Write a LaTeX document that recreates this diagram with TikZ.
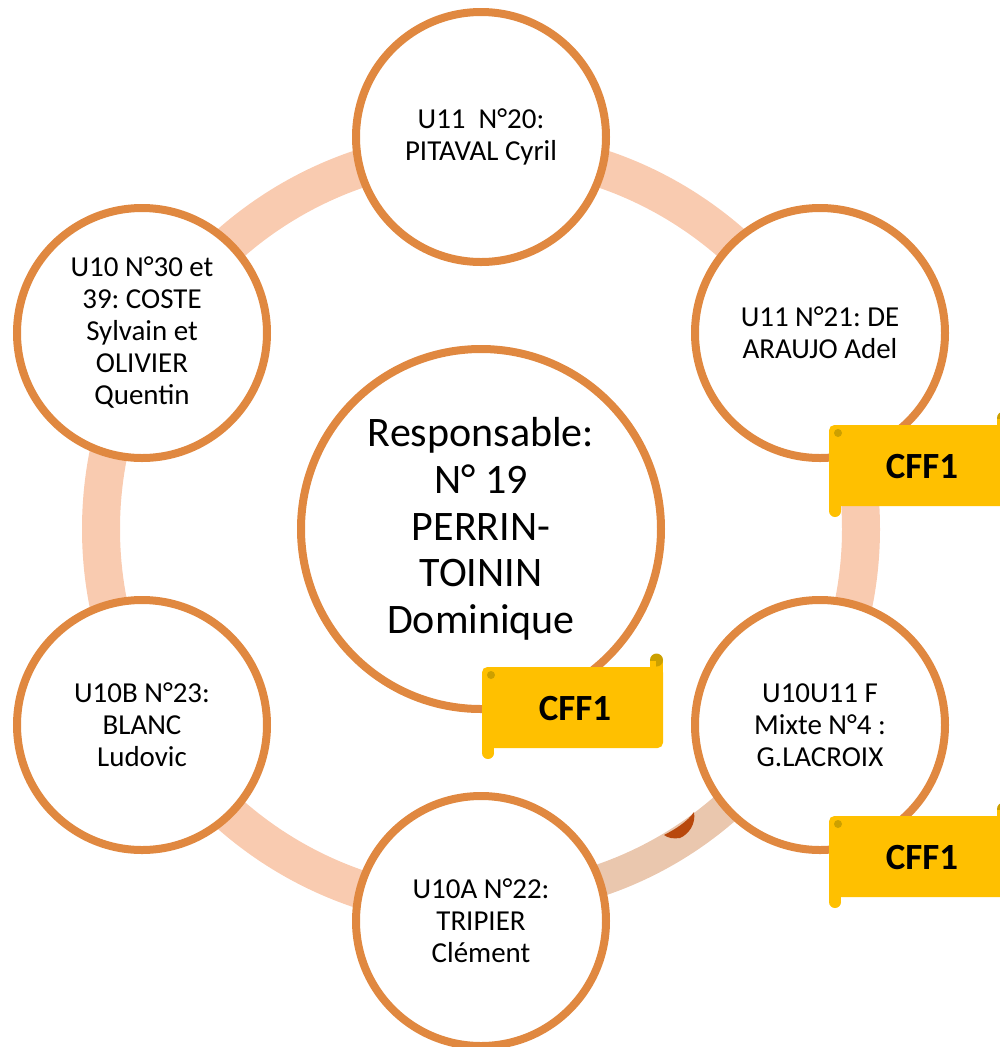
\documentclass[tikz,border=0pt]{standalone}
\usepackage{fontspec}
\setmainfont{Carlito}
\usepackage{tikz}
\frenchspacing
\definecolor{ringorange}{RGB}{224,136,64}
\definecolor{ringpeach}{RGB}{249,203,176}
\definecolor{ringtan}{RGB}{234,199,174}
\definecolor{markbrown}{RGB}{184,72,12}
\definecolor{scrollgold}{RGB}{255,192,0}
\definecolor{scrolldark}{RGB}{204,160,0}

\begin{document}
\begin{tikzpicture}[x=0.75pt, y=-0.75pt,
  team/.style={circle, draw=ringorange, line width=6pt, fill=white, minimum size=187.5pt, inner sep=0pt, align=center, font=\fontsize{21.7}{24}\selectfont},
  resp/.style={team, minimum size=270pt, font=\fontsize{31.5}{35}\selectfont},
  band/.style={draw=ringpeach, line width=28.5pt},
  tanband/.style={draw=ringtan, line width=24pt},
  scroll/.style={fill=scrollgold},
  cfftext/.style={font=\fontsize{27.7}{30}\selectfont\bfseries}]
  \useasboundingbox (0,0) rectangle (1000,1047);
  \clip (0,0) rectangle (1000,1047);
  \coordinate (mid) at (481,529);
  \draw[band] ([shift={(90:380)}]mid) arc[start angle=90, end angle=390, radius=380];
  \draw[tanband] ([shift={(88:371)}]mid) arc[start angle=88, end angle=32, radius=371];
  \fill[markbrown] (664,835) .. controls (676,829) and (688,821) .. (694,812)
    .. controls (696,824) and (689,834) .. (680,838)
    .. controls (673,839) and (668,838) .. (664,835) -- cycle;
  \node[resp] (resp) at (mid) {Responsable:\\N° 19\\PERRIN-\\TOININ\\Dominique};
  \node[team] (u20) at (481,137) {U11\ \ N°20:\\PITAVAL Cyril};
  \node[team] (u21) at (820,333) {U11 N°21: DE\\ARAUJO Adel};
  \node[team] (u4) at (820,725) {U10U11 F\\Mixte N°4 :\\G.LACROIX};
  \node[team] (u22) at (481,921) {U10A N°22:\\TRIPIER\\Clément};
  \node[team] (u23) at (142,725) {U10B N°23:\\BLANC\\Ludovic};
  \node[team] (u30) at (142,333) {U10 N°30 et\\39: COSTE\\Sylvain et\\OLIVIER\\Quentin};
  \foreach \bx/\by/\nm in {482/667/cffresp, 829/425/cffu21, 829/816/cffu4} {
    \fill[scroll] (\bx,\by+60) rectangle (\bx+12,\by+86);
    \fill[scroll] (\bx+6,\by+86) circle (6);
    \fill[scroll, rounded corners=4pt] (\bx,\by) rectangle (\bx+181,\by+81);
    \fill[scroll] (\bx+168,\by-7) rectangle (\bx+181,\by+8);
    \fill[scrolldark] (\bx+174.5,\by-7) circle (6.5);
    \fill[scroll] (\bx+168,\by-6) rectangle (\bx+174,\by);
    \fill[scrolldark] (\bx+9,\by+8) circle (4);
    \node[cfftext] (\nm) at (\bx+93,\by+42) {CFF1};
  }
\end{tikzpicture}
\end{document}
